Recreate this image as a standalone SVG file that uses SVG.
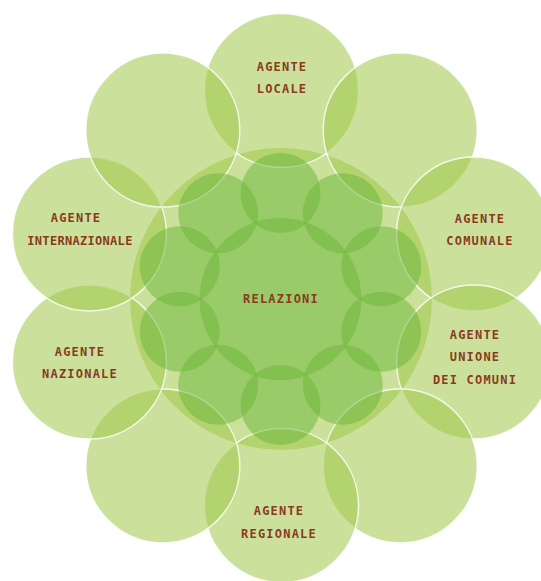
<svg xmlns="http://www.w3.org/2000/svg" width="541" height="581" viewBox="0 0 541 581">
<style>
.bg{fill:#ffffff}
.outer{fill:rgb(160,200,73);fill-opacity:0.55;stroke:#ffffff;stroke-opacity:0.8;stroke-width:1.5}
.big{fill:rgb(160,200,73);fill-opacity:0.55}
.inner{fill:rgb(105,182,55);fill-opacity:0.5}
.lbl{font-family:"DejaVu Sans Mono","Liberation Mono",monospace;font-size:12px;font-weight:bold;fill:#8b3a1f;text-anchor:middle;letter-spacing:1.2px}
</style>
<rect class="bg" x="0" y="0" width="541" height="581"/>
<g id="relazioni-back">
<circle class="big" cx="281" cy="299" r="151"/>
</g>
<g id="connectors"/>
<g id="agente-locale">
<circle class="outer" cx="281.5" cy="90.5" r="77"/>
<text class="lbl" x="282" y="71">AGENTE</text>
<text class="lbl" x="282" y="93">LOCALE</text>
</g>
<g id="cerchio-1">
<circle class="outer" cx="400.2" cy="130.1" r="77"/>
</g>
<g id="agente-comunale">
<circle class="outer" cx="473.6" cy="233.9" r="77"/>
<text class="lbl" x="480" y="223">AGENTE</text>
<text class="lbl" x="480" y="245">COMUNALE</text>
</g>
<g id="agente-unione">
<circle class="outer" cx="473.6" cy="362.1" r="77"/>
<text class="lbl" x="475" y="339">AGENTE</text>
<text class="lbl" x="475" y="361">UNIONE</text>
<text class="lbl" x="475" y="384">DEI COMUNI</text>
</g>
<g id="cerchio-4">
<circle class="outer" cx="400.2" cy="465.9" r="77"/>
</g>
<g id="agente-regionale">
<circle class="outer" cx="281.5" cy="505.5" r="77"/>
<text class="lbl" x="279" y="515">AGENTE</text>
<text class="lbl" x="279" y="538">REGIONALE</text>
</g>
<g id="cerchio-6">
<circle class="outer" cx="162.8" cy="465.9" r="77"/>
</g>
<g id="agente-nazionale">
<circle class="outer" cx="89.4" cy="362.1" r="77"/>
<text class="lbl" x="80" y="356">AGENTE</text>
<text class="lbl" x="80" y="378">NAZIONALE</text>
</g>
<g id="agente-internazionale">
<circle class="outer" cx="89.4" cy="233.9" r="77"/>
<text class="lbl" x="76" y="222">AGENTE</text>
<text class="lbl" x="80" y="245" style="letter-spacing:0.3px">INTERNAZIONALE</text>
</g>
<g id="cerchio-9">
<circle class="outer" cx="162.8" cy="130.1" r="77"/>
</g>
<g id="relazioni">
<circle class="inner" cx="280.5" cy="299" r="81"/>
<circle class="inner" cx="280.5" cy="193" r="40"/>
<circle class="inner" cx="342.8" cy="213.2" r="40"/>
<circle class="inner" cx="381.3" cy="266.2" r="40"/>
<circle class="inner" cx="381.3" cy="331.8" r="40"/>
<circle class="inner" cx="342.8" cy="384.8" r="40"/>
<circle class="inner" cx="280.5" cy="405" r="40"/>
<circle class="inner" cx="218.2" cy="384.8" r="40"/>
<circle class="inner" cx="179.7" cy="331.8" r="40"/>
<circle class="inner" cx="179.7" cy="266.2" r="40"/>
<circle class="inner" cx="218.2" cy="213.2" r="40"/>
<text class="lbl" x="281" y="303">RELAZIONI</text>
</g>
</svg>
